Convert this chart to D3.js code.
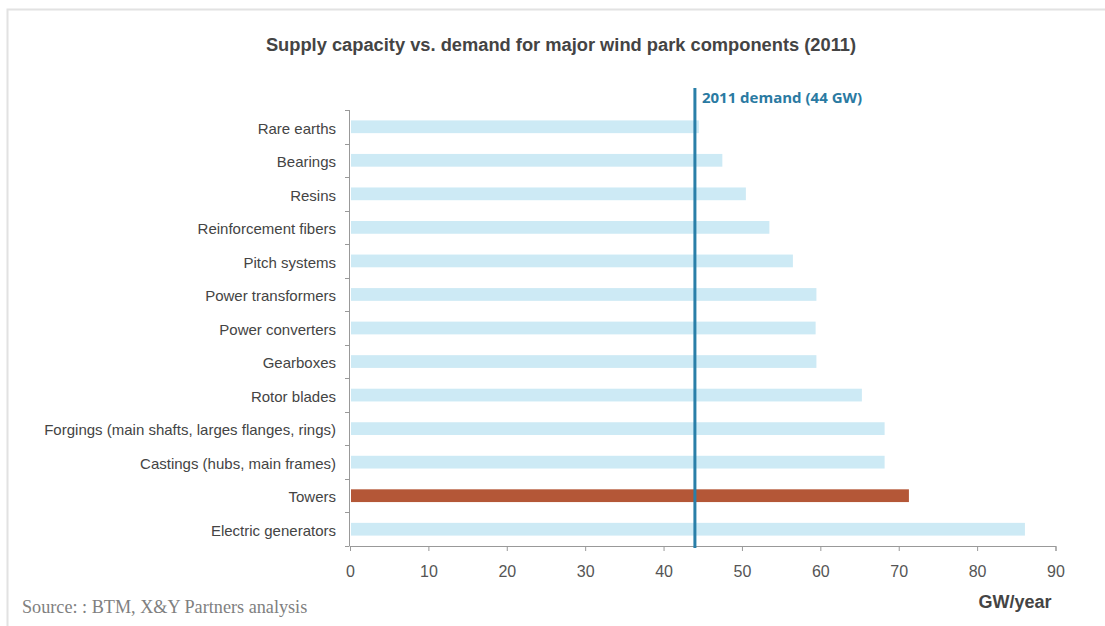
<!DOCTYPE html>
<html><head><meta charset="utf-8">
<script src="https://cdn.jsdelivr.net/npm/d3@7"></script>
<style>body{margin:0;background:#fff;} svg{display:block;}</style>
</head><body>
<script>
const categories = ["Rare earths","Bearings","Resins","Reinforcement fibers","Pitch systems","Power transformers","Power converters","Gearboxes","Rotor blades","Forgings (main shafts, larges flanges, rings)","Castings (hubs, main frames)","Towers","Electric generators"];
const capacity = [44.5,47.5,50.5,53.5,56.5,59.5,59.4,59.5,65.3,68.2,68.2,71.3,86.1];
const highlight = ["Towers"];
const demand = 44;
const xTicks = [0,10,20,30,40,50,60,70,80,90];

const W=1105,H=626;
const svg=d3.select("body").append("svg").attr("width",W).attr("height",H);
// frame
svg.append("path").attr("d","M7.5,626 V9.5 H1105").attr("fill","none").attr("stroke","#e2e2e2").attr("stroke-width",2);

const x=d3.scaleLinear().domain([0,90]).range([350,1055.5]);
const y=d3.scaleBand().domain(categories).range([110,546]).paddingInner(0.62).paddingOuter(0.31);

svg.append("text").attr("x",561).attr("y",51).attr("text-anchor","middle")
  .attr("font-family","Liberation Sans, Arial, sans-serif").attr("font-weight","bold").attr("font-size",18.3).attr("fill","#444")
  .text("Supply capacity vs. demand for major wind park components (2011)");

svg.append("g").selectAll("rect").data(categories).join("rect")
  .attr("x",x(0)+1).attr("y",d=>y(d)).attr("height",y.bandwidth())
  .attr("width",(d,i)=>x(capacity[i])-x(0)-1)
  .attr("fill",d=>highlight.includes(d)?"#b45737":"#cdeaf5");

// y axis
const yTickPos=d3.range(categories.length+1).map(i=>110+i*(436/categories.length));
const ga=svg.append("g");
ga.append("line").attr("x1",349.5).attr("x2",349.5).attr("y1",110).attr("y2",546).attr("stroke","#999").attr("stroke-width",1);
ga.selectAll("line.t").data(yTickPos).join("line").attr("class","t").attr("x1",345).attr("x2",349.5).attr("y1",d=>Math.round(d)+0.5).attr("y2",d=>Math.round(d)+0.5).attr("stroke","#999");
ga.selectAll("text").data(categories).join("text").attr("x",336).attr("y",d=>y(d)+y.bandwidth()/2+1.5).attr("dy","0.35em")
  .attr("text-anchor","end").attr("font-family","Liberation Sans, Arial, sans-serif").attr("font-size",15).attr("fill","#444").text(d=>d);

// x axis
const xa=svg.append("g").attr("transform","translate(0,546)")
  .call(d3.axisBottom(x).tickValues(xTicks).tickSize(5).tickFormat(d3.format("d")));
xa.select(".domain").attr("stroke","#999");
xa.selectAll(".tick line").attr("stroke","#999");
xa.selectAll(".tick text").attr("font-family","Liberation Sans, Arial, sans-serif").attr("font-size",16).attr("fill","#555").attr("y",20).attr("dy","0.71em");

// demand line
svg.append("line").attr("x1",x(demand)).attr("x2",x(demand)).attr("y1",88).attr("y2",548).attr("stroke","#2a7fa8").attr("stroke-width",3);
svg.append("text").attr("x",x(demand)+7).attr("y",103).attr("font-family","Open Sans, sans-serif").attr("font-weight","bold").attr("font-size",15).attr("fill","#2a7aa2").text("2011 demand (44 GW)");

svg.append("text").attr("x",1015).attr("y",608).attr("text-anchor","middle").attr("font-family","Liberation Sans, Arial, sans-serif").attr("font-weight","bold").attr("font-size",18).attr("fill","#444").text("GW/year");
svg.append("text").attr("x",22).attr("y",613).attr("font-family","Liberation Serif, serif").attr("font-size",18.2).attr("fill","#808080").text("Source: : BTM, X&Y Partners analysis");
</script>
</body></html>
